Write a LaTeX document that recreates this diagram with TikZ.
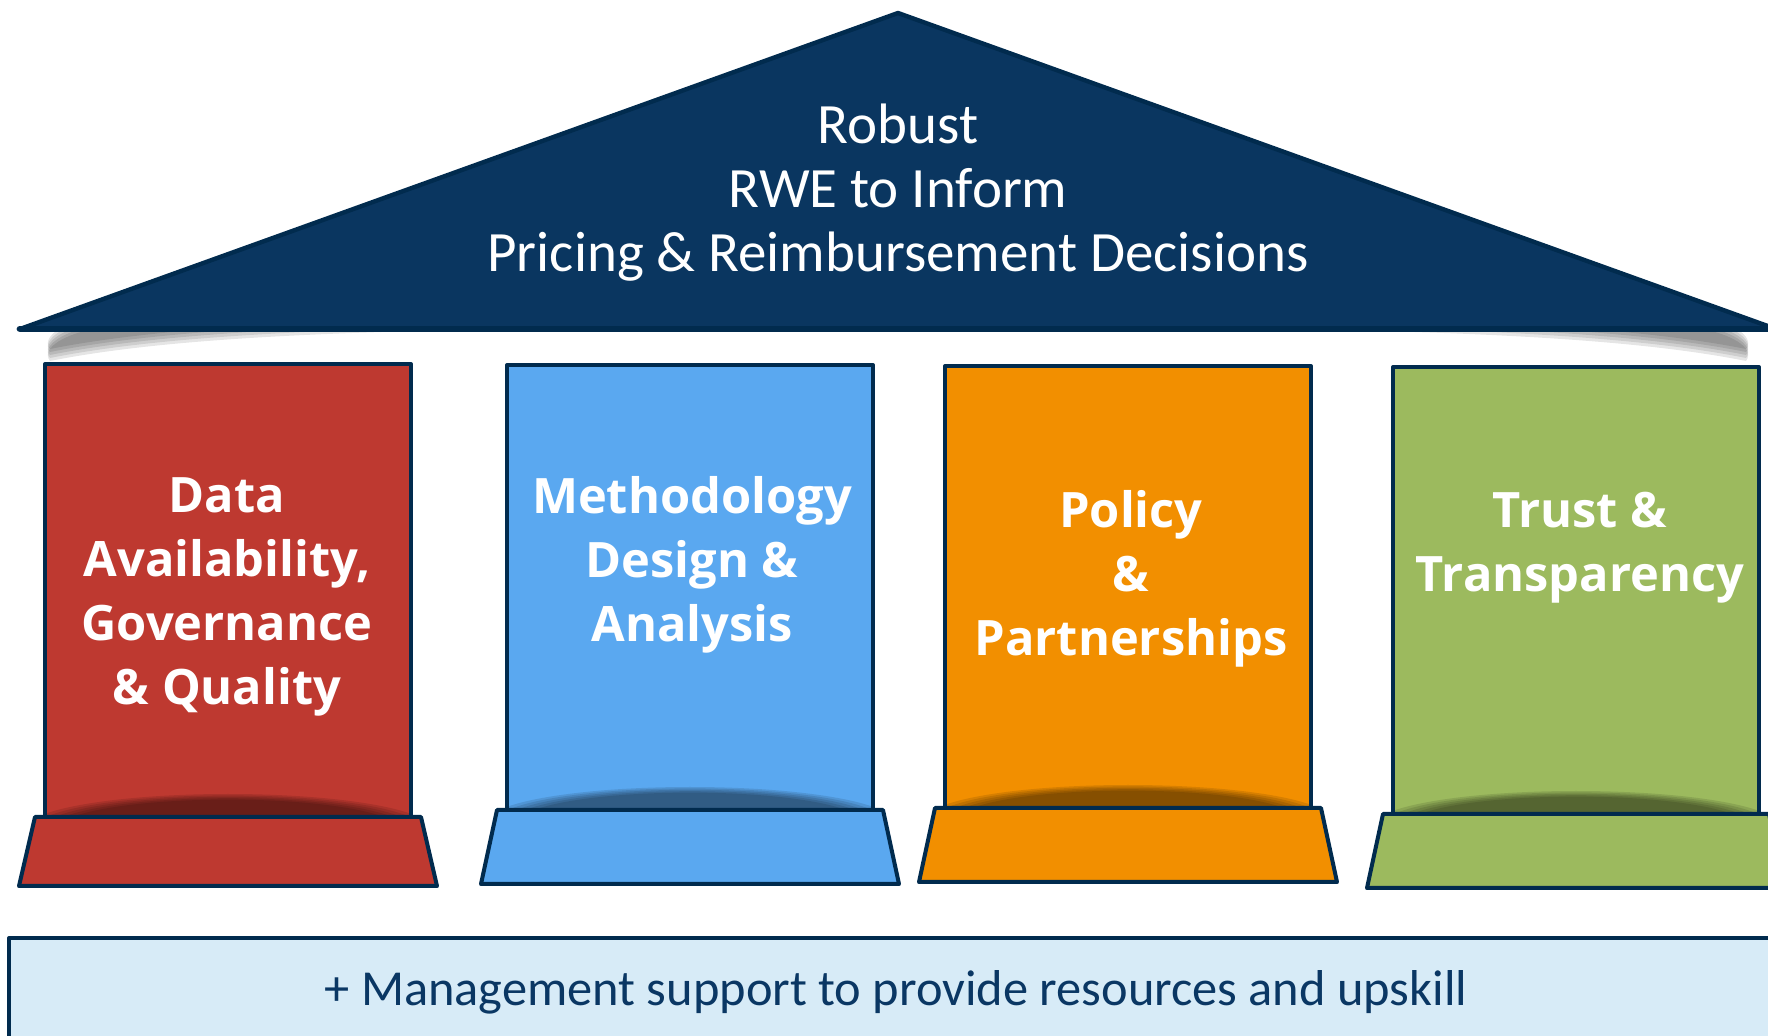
\documentclass[tikz,border=0pt]{standalone}
\usepackage{fontspec}
\setmainfont{Carlito}
\newfontfamily\pillarfont{Open Sans}
\definecolor{roofnavy}{HTML}{0A3660}
\definecolor{edgenavy}{HTML}{012B4E}
\definecolor{pred}{HTML}{BE3930}
\definecolor{pblue}{HTML}{5AA8F0}
\definecolor{porange}{HTML}{F28F00}
\definecolor{pgreen}{HTML}{9CBA5E}
\definecolor{basefill}{HTML}{D7EBF7}
\definecolor{basetext}{HTML}{0A3764}
\tikzset{
  edge/.style={draw=edgenavy, line width=2pt, line join=round},
  pillartext/.style={text=white, align=center, font=\pillarfont\bfseries\fontsize{24.4}{32}\selectfont},
  rooftext/.style={text=white, align=center, font=\fontsize{28.5}{32}\selectfont},
}
% #1 fill colour, #2 left x, #3 right x, #4 top y, #5 bottom y (base top), #6 base bottom y
\newcommand\drawpillar[6]{%
  \fill[#1] (#2,#4) rectangle (#3,#5);
  \begin{scope}
    \clip (#2,#4) rectangle (#3,#5);
    \foreach \s in {1.0,0.96,0.92,0.88,0.84}
      \fill[black, opacity=0.11] ({(#2+#3)/2},#5+12) ellipse [x radius={((#3-#2)/2+20)*\s}, y radius={35*\s}];
  \end{scope}
  \draw[edge] (#2,#4) rectangle (#3,#5);
  \filldraw[edge, fill=#1] (#2-10,#5) -- (#3+10,#5) -- (#3+26,#6) -- (#2-26,#6) -- cycle;
}
\begin{document}
\begin{tikzpicture}[x=0.5pt,y=-0.5pt]
\useasboundingbox (0,0) rectangle (1768,1036);
\clip (0,0) rectangle (1768,1036);
% roof shadow
\foreach \k in {0,...,4}{
  \begin{scope}[yshift={\k*1.5pt}]
    \fill[black, opacity=0.1] (50,361) .. controls (150,341) and (300,332) .. (520,329)
      -- (1276,329) .. controls (1496,332) and (1646,341) .. (1746,361)
      .. controls (1756,348) and (1730,332) .. (1690,327) -- (106,327)
      .. controls (66,332) and (40,348) .. cycle;
  \end{scope}
}
% roof
\filldraw[edge, fill=roofnavy, line width=2.2pt] (20,329) -- (898,13) -- (1776,329) -- cycle;
\draw[draw=edgenavy, line width=3.4pt, line cap=round] (20,329) -- (1776,329);
\node[rooftext] (roof) at (898,193) {Robust\\RWE to Inform\\Pricing \& Reimbursement Decisions};
% pillars
\drawpillar{pred}{45}{411}{364}{817}{886}
\drawpillar{pblue}{507}{873}{365}{810}{884}
\drawpillar{porange}{945}{1311}{366}{808}{882}
\drawpillar{pgreen}{1393}{1759}{367}{814}{888}
\node[pillartext] (p1) at (227,597) {Data\\Availability,\\Governance\\\& Quality};
\node[pillartext] (p2) at (692,565) {Methodology\\Design \&\\Analysis};
\node[pillartext] (p3) at (1131,579) {Policy\\\&\\Partnerships};
\node[pillartext] (p4) at (1580,548) {Trust \&\\Transparency};
% bottom band
\filldraw[edge, fill=basefill] (9,938) rectangle (1800,1070);
\node[text=basetext, font=\fontsize{25.2}{32}\selectfont] (mgmt) at (896,992) {+ Management support to provide resources and upskill};
\end{tikzpicture}
\end{document}
